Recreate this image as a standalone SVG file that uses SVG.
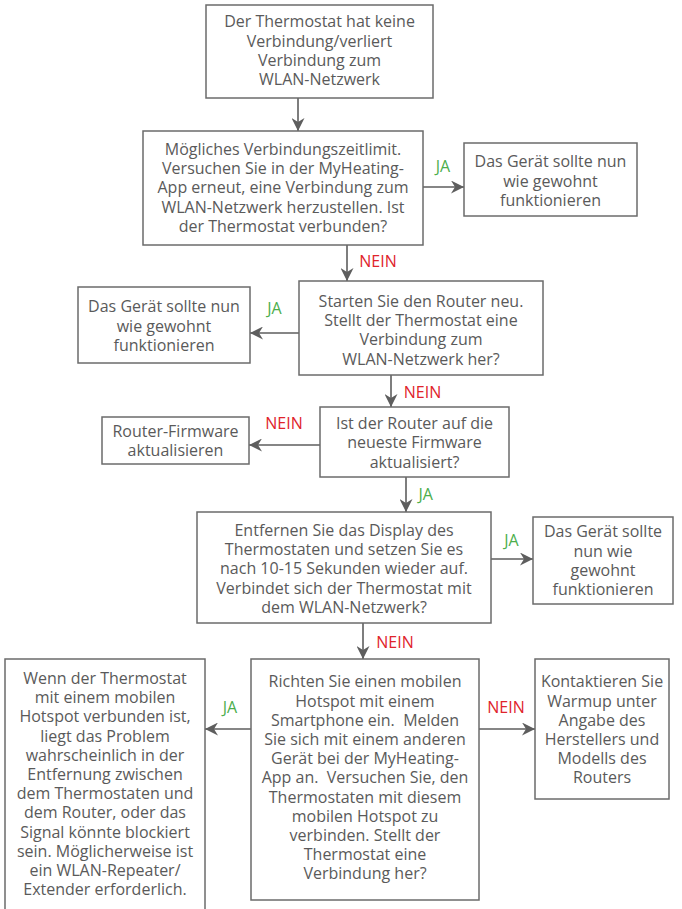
<svg xmlns="http://www.w3.org/2000/svg" width="682" height="909" viewBox="0 0 682 909">
<defs>
<style>
.box{fill:#fff;stroke:#6b6b6b;stroke-width:1.5}
.t{font-family:"Open Sans","Noto Sans","DejaVu Sans",sans-serif;font-size:16px;fill:#5a5a5a;text-anchor:middle;white-space:pre}
.ja{font-family:"Open Sans","Noto Sans","DejaVu Sans",sans-serif;font-size:16px;fill:#4cae4c;text-anchor:middle}
.nein{font-family:"Open Sans","Noto Sans","DejaVu Sans",sans-serif;font-size:16px;fill:#e0242b;text-anchor:middle}
.c{fill:none;stroke:#5e5e5e;stroke-width:1.6;marker-end:url(#ah)}
</style>
<marker id="ah" markerUnits="userSpaceOnUse" viewBox="0 0 13 13" refX="13" refY="6.5" markerWidth="13" markerHeight="13" orient="auto">
<path d="M0,0 L13,6.5 L0,13 L4,6.5 z" fill="#5e5e5e"/>
</marker>
</defs>
<rect width="682" height="909" fill="#fff"/>
<g id="connectors">
<line class="c" x1="298" y1="98" x2="298" y2="131"/>
<line class="c" x1="423" y1="187" x2="464" y2="187"/>
<line class="c" x1="347" y1="245" x2="347" y2="281"/>
<line class="c" x1="299" y1="333" x2="250" y2="333"/>
<line class="c" x1="391" y1="375" x2="391" y2="407"/>
<line class="c" x1="320" y1="445" x2="249" y2="445"/>
<line class="c" x1="406" y1="477" x2="406" y2="512"/>
<line class="c" x1="491" y1="559" x2="533" y2="559"/>
<line class="c" x1="363" y1="623" x2="363" y2="659"/>
<line class="c" x1="251" y1="729" x2="205" y2="729"/>
<line class="c" x1="479" y1="729" x2="535" y2="729"/>
<text class="ja" x="443" y="172">JA</text>
<text class="nein" x="378" y="266.5">NEIN</text>
<text class="ja" x="274.5" y="313.5">JA</text>
<text class="nein" x="422.5" y="397.5">NEIN</text>
<text class="nein" x="284" y="428.5">NEIN</text>
<text class="ja" x="425.7" y="499.5">JA</text>
<text class="ja" x="511.5" y="545.5">JA</text>
<text class="nein" x="395" y="647.5">NEIN</text>
<text class="ja" x="230" y="712.5">JA</text>
<text class="nein" x="506" y="712.5">NEIN</text>
</g>
<g id="n1">
<rect class="box" x="206" y="5" width="227" height="93"/>
<text class="t" x="319.5" y="27.3">Der Thermostat hat keine</text>
<text class="t" x="319.5" y="46.6">Verbindung/verliert</text>
<text class="t" x="319.5" y="65.9">Verbindung zum</text>
<text class="t" x="319.5" y="85.2">WLAN-Netzwerk</text>
</g>
<g id="n2">
<rect class="box" x="143" y="131" width="280" height="114"/>
<text class="t" x="283" y="154.6">Mögliches Verbindungszeitlimit.</text>
<text class="t" x="283" y="173.9">Versuchen Sie in der MyHeating-</text>
<text class="t" x="283" y="193.2">App erneut, eine Verbindung zum</text>
<text class="t" x="283" y="212.5">WLAN-Netzwerk herzustellen. Ist</text>
<text class="t" x="283" y="231.8">der Thermostat verbunden?</text>
</g>
<g id="n3">
<rect class="box" x="464" y="143" width="173" height="73"/>
<text class="t" x="550.5" y="167.3">Das Gerät sollte nun</text>
<text class="t" x="550.5" y="186.6">wie gewohnt</text>
<text class="t" x="550.5" y="205.9">funktionieren</text>
</g>
<g id="n4">
<rect class="box" x="299" y="281" width="244" height="94"/>
<text class="t" x="421" y="306.6">Starten Sie den Router neu.</text>
<text class="t" x="421" y="325.9">Stellt der Thermostat eine</text>
<text class="t" x="421" y="345.2">Verbindung zum</text>
<text class="t" x="421" y="364.5">WLAN-Netzwerk her?</text>
</g>
<g id="n5">
<rect class="box" x="78" y="287" width="172" height="76"/>
<text class="t" x="164" y="312.3">Das Gerät sollte nun</text>
<text class="t" x="164" y="331.6">wie gewohnt</text>
<text class="t" x="164" y="350.9">funktionieren</text>
</g>
<g id="n6">
<rect class="box" x="320" y="407" width="189" height="70"/>
<text class="t" x="414.5" y="429">Ist der Router auf die</text>
<text class="t" x="414.5" y="448.3">neueste Firmware</text>
<text class="t" x="414.5" y="467.6">aktualisiert?</text>
</g>
<g id="n7">
<rect class="box" x="102" y="417" width="147" height="47"/>
<text class="t" x="175.5" y="436.6">Router-Firmware</text>
<text class="t" x="175.5" y="455.9">aktualisieren</text>
</g>
<g id="n8">
<rect class="box" x="197" y="512" width="294" height="111"/>
<text class="t" x="344" y="535.6">Entfernen Sie das Display des</text>
<text class="t" x="344" y="554.9">Thermostaten und setzen Sie es</text>
<text class="t" x="344" y="574.2">nach 10-15 Sekunden wieder auf.</text>
<text class="t" x="344" y="593.5">Verbindet sich der Thermostat mit</text>
<text class="t" x="344" y="612.8">dem WLAN-Netzwerk?</text>
</g>
<g id="n9">
<rect class="box" x="533" y="517" width="140" height="87"/>
<text class="t" x="603" y="537.3">Das Gerät sollte</text>
<text class="t" x="603" y="556.6">nun wie</text>
<text class="t" x="603" y="575.9">gewohnt</text>
<text class="t" x="603" y="595.2">funktionieren</text>
</g>
<g id="n10">
<rect class="box" x="5" y="659" width="200" height="270"/>
<text class="t" x="105" y="684">Wenn der Thermostat</text>
<text class="t" x="105" y="703.2">mit einem mobilen</text>
<text class="t" x="105" y="722.4">Hotspot verbunden ist,</text>
<text class="t" x="105" y="741.6">liegt das Problem</text>
<text class="t" x="105" y="760.8">wahrscheinlich in der</text>
<text class="t" x="105" y="780">Entfernung zwischen</text>
<text class="t" x="105" y="799.2">dem Thermostaten und</text>
<text class="t" x="105" y="818.4">dem Router, oder das</text>
<text class="t" x="105" y="837.6">Signal könnte blockiert</text>
<text class="t" x="105" y="856.8">sein. Möglicherweise ist</text>
<text class="t" x="105" y="876">ein WLAN-Repeater/</text>
<text class="t" x="105" y="895.2">Extender erforderlich.</text>
</g>
<g id="n11">
<rect class="box" x="251" y="659" width="228" height="241"/>
<text class="t" x="365" y="687.3">Richten Sie einen mobilen</text>
<text class="t" x="365" y="706.5">Hotspot mit einem</text>
<text class="t" x="365" y="725.7">Smartphone ein.  Melden</text>
<text class="t" x="365" y="744.9">Sie sich mit einem anderen</text>
<text class="t" x="365" y="764.1">Gerät bei der MyHeating-</text>
<text class="t" x="365" y="783.3">App an.  Versuchen Sie, den</text>
<text class="t" x="365" y="802.5">Thermostaten mit diesem</text>
<text class="t" x="365" y="821.7">mobilen Hotspot zu</text>
<text class="t" x="365" y="840.9">verbinden. Stellt der</text>
<text class="t" x="365" y="860.1">Thermostat eine</text>
<text class="t" x="365" y="879.3">Verbindung her?</text>
</g>
<g id="n12">
<rect class="box" x="535" y="659" width="134" height="140"/>
<text class="t" x="602" y="687.3">Kontaktieren Sie</text>
<text class="t" x="602" y="706.5">Warmup unter</text>
<text class="t" x="602" y="725.7">Angabe des</text>
<text class="t" x="602" y="744.9">Herstellers und</text>
<text class="t" x="602" y="764.1">Modells des</text>
<text class="t" x="602" y="783.3">Routers</text>
</g>
</svg>
